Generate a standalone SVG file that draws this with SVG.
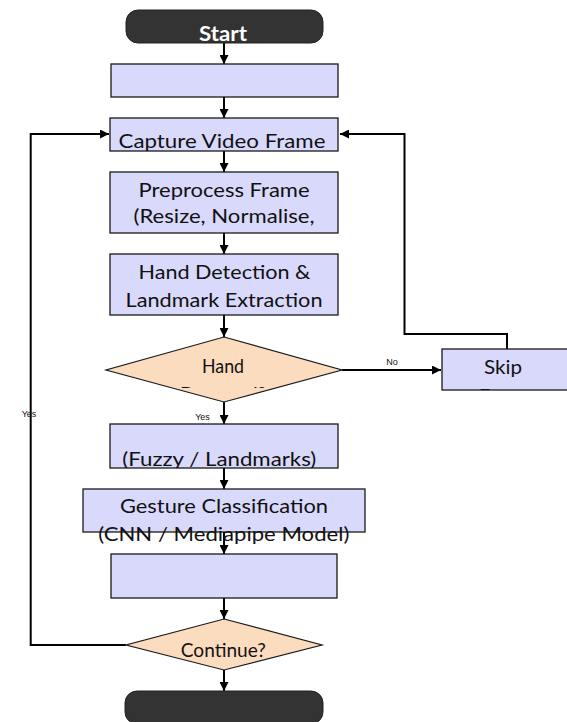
<svg xmlns="http://www.w3.org/2000/svg" width="567" height="722" viewBox="0 0 567 722">
  <style>
    .box { fill: #d9d9fb; stroke: #1a1a1a; stroke-width: 1.3; }
    .dec { fill: #fcdcbf; stroke: #1a1a1a; stroke-width: 1.2; }
    .term { fill: #333333; stroke: #222222; stroke-width: 1; }
    .lbl { font-family: Lato, "Liberation Sans", sans-serif; font-size: 20px; fill: #111111; text-anchor: middle; }
    .dlbl { font-family: Lato, "Liberation Sans", sans-serif; font-size: 19px; fill: #111111; text-anchor: middle; }
    .tlbl { font-family: Lato, "Liberation Sans", sans-serif; font-size: 21px; font-weight: bold; fill: #ffffff; text-anchor: middle; }
    .small { font-family: "Liberation Sans", Arial, sans-serif; font-size: 9px; fill: #111111; text-anchor: middle; }
    .conn { fill: none; stroke: #000000; stroke-width: 2; }
  </style>
  <defs>
    <marker id="arrow" viewBox="0 0 10 10" refX="10" refY="5" markerWidth="9" markerHeight="9" markerUnits="userSpaceOnUse" orient="auto">
      <path d="M0,0 L10,5 L0,10 z" fill="#000000"/>
    </marker>
    <clipPath id="clipPre"><rect x="110" y="172" width="228" height="61"/></clipPath>
    <clipPath id="clipHand"><rect x="106" y="337" width="236" height="51"/></clipPath>
    <clipPath id="clipSkip"><rect x="442" y="349" width="125" height="41"/></clipPath>
    <clipPath id="clipFuzzy"><rect x="110" y="424" width="228" height="44"/></clipPath>
  </defs>

  <!-- connectors -->
  <g id="connectors">
    <path class="conn" d="M224,43 V64" marker-end="url(#arrow)"/>
    <path class="conn" d="M224,97 V118" marker-end="url(#arrow)"/>
    <path class="conn" d="M224,151 V172" marker-end="url(#arrow)"/>
    <path class="conn" d="M224,233 V254" marker-end="url(#arrow)"/>
    <path class="conn" d="M224,315 V337" marker-end="url(#arrow)"/>
    <path class="conn" d="M224,402 V424" marker-end="url(#arrow)"/>
    <path class="conn" d="M224,468 V489" marker-end="url(#arrow)"/>
    <path class="conn" d="M224,532 V554" marker-end="url(#arrow)"/>
    <path class="conn" d="M224,598 V619" marker-end="url(#arrow)"/>
    <path class="conn" d="M224,670 V691" marker-end="url(#arrow)"/>
    <!-- No branch -->
    <path class="conn" d="M342,370 H441" marker-end="url(#arrow)"/>
    <!-- Skip back to capture -->
    <path class="conn" d="M507,349 V334 H404.5 V134 H340" marker-end="url(#arrow)"/>
    <!-- Continue loop back -->
    <path class="conn" d="M126,645 H30.7 V134 H109" marker-end="url(#arrow)"/>
    <text class="small" x="392" y="365">No</text>
    <text class="small" x="202.5" y="420">Yes</text>
    <text class="small" x="29" y="417">Yes</text>
  </g>

  <g id="start">
    <rect class="term" x="126" y="10" width="197" height="33" rx="12"/>
    <text class="tlbl" x="223" y="41" textLength="48" lengthAdjust="spacingAndGlyphs">Start</text>
  </g>

  <g id="init">
    <rect class="box" x="111" y="64" width="227" height="33"/>
  </g>

  <g id="capture">
    <rect class="box" x="110" y="118" width="228" height="33"/>
    <text class="lbl" x="222" y="148" textLength="207" lengthAdjust="spacingAndGlyphs">Capture Video Frame</text>
  </g>

  <g id="preprocess">
    <rect class="box" x="110" y="172" width="228" height="61"/>
    <g clip-path="url(#clipPre)">
      <text class="lbl" x="224" y="196.5" textLength="171" lengthAdjust="spacingAndGlyphs">Preprocess Frame</text>
      <text class="lbl" x="224" y="222.5" textLength="181" lengthAdjust="spacingAndGlyphs">(Resize, Normalise,</text>
    </g>
  </g>

  <g id="detect">
    <rect class="box" x="110" y="254" width="228" height="61"/>
    <text class="lbl" x="224.5" y="278.5" textLength="172" lengthAdjust="spacingAndGlyphs">Hand Detection &amp;</text>
    <text class="lbl" x="224" y="306.5" textLength="197" lengthAdjust="spacingAndGlyphs">Landmark Extraction</text>
  </g>

  <g id="hand-detected">
    <polygon class="dec" points="224,337 342,370 224,402 106,370"/>
    <g clip-path="url(#clipHand)">
      <text class="dlbl" x="223" y="372.7" textLength="42" lengthAdjust="spacingAndGlyphs">Hand</text>
      <text class="dlbl" x="223" y="401">Detected?</text>
    </g>
  </g>

  <g id="skip">
    <rect class="box" x="442" y="349" width="126" height="41"/>
    <g clip-path="url(#clipSkip)">
      <text class="lbl" x="503" y="374" textLength="38" lengthAdjust="spacingAndGlyphs">Skip</text>
      <text class="lbl" x="506" y="403">Frame</text>
    </g>
  </g>

  <g id="features">
    <rect class="box" x="110" y="424" width="228" height="44"/>
    <g clip-path="url(#clipFuzzy)">
      <text class="lbl" x="219.3" y="465.7" textLength="194" lengthAdjust="spacingAndGlyphs">(Fuzzy / Landmarks)</text>
    </g>
  </g>

  <g id="classify">
    <rect class="box" x="83" y="489" width="282" height="43"/>
    <text class="lbl" x="224" y="512.7" textLength="208" lengthAdjust="spacingAndGlyphs">Gesture Classification</text>
    <text class="lbl" x="223.8" y="540.7" textLength="251" lengthAdjust="spacingAndGlyphs">(CNN / Mediapipe Model)</text>
  </g>

  <g id="output">
    <rect class="box" x="111" y="554" width="226" height="44"/>
  </g>

  <g id="continue">
    <polygon class="dec" points="224,619 322,645 224,670 126,645"/>
    <text class="dlbl" x="223.3" y="656.7" textLength="85" lengthAdjust="spacingAndGlyphs">Continue?</text>
  </g>

  <g id="end">
    <rect class="term" x="125" y="691" width="198" height="33" rx="12"/>
  </g>
</svg>
